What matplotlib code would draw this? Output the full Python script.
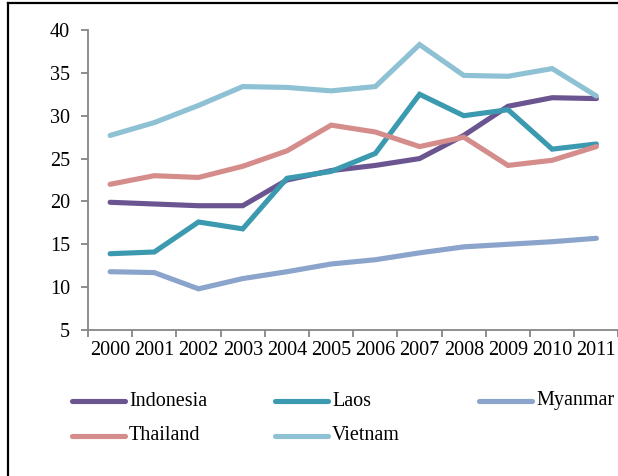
import matplotlib
matplotlib.use("Agg")
import matplotlib.pyplot as plt
from matplotlib.lines import Line2D

# 동남아 5개국 지표 추이 (2000-2011)
years = ["2000", "2001", "2002", "2003", "2004", "2005",
         "2006", "2007", "2008", "2009", "2010", "2011"]
indonesia = [19.9, 19.7, 19.5, 19.5, 22.5, 23.6, 24.2, 25.0, 27.7, 31.1, 32.1, 32.0]
laos = [13.9, 14.1, 17.6, 16.8, 22.7, 23.5, 25.6, 32.5, 30.0, 30.7, 26.1, 26.7]
myanmar = [11.8, 11.7, 9.8, 11.0, 11.8, 12.7, 13.2, 14.0, 14.7, 15.0, 15.3, 15.7]
thailand = [22.0, 23.0, 22.8, 24.1, 25.9, 28.9, 28.1, 26.4, 27.5, 24.2, 24.8, 26.4]
vietnam = [27.7, 29.2, 31.2, 33.4, 33.3, 32.9, 33.4, 38.3, 34.7, 34.6, 35.5, 32.3]

series = [
    ("Indonesia", indonesia, "#6b5590"),
    ("Laos", laos, "#3c9ab0"),
    ("Myanmar", myanmar, "#8ba4cc"),
    ("Thailand", thailand, "#d58d8b"),
    ("Vietnam", vietnam, "#8ec1d4"),
]

plt.rcParams["font.family"] = ["Liberation Serif", "DejaVu Serif"]
fs = 14.5

fig = plt.figure(figsize=(6.18, 4.76), dpi=100)
ax = fig.add_axes([88 / 618, 1 - 330 / 476, 530.5 / 618, 300 / 476])

x = range(len(years))
for name, vals, color in series:
    ax.plot(x, vals, color=color, lw=3.7, solid_capstyle="round",
            solid_joinstyle="miter", clip_on=False)

ax.set_xlim(-0.5, len(years) - 0.5)
ax.set_ylim(5, 40)
ax.set_yticks(range(5, 41, 5))
ax.set_xticks([i - 0.5 for i in range(len(years) + 1)], minor=False)
ax.set_xticklabels([])
ax.set_xticks(list(x), minor=True)
ax.set_xticklabels(years, minor=True)
ax.tick_params(axis="x", which="major", direction="out", length=5, width=1.3, color="#868686")
ax.tick_params(axis="x", which="minor", length=0, pad=8, labelsize=fs)
ax.tick_params(axis="y", direction="out", length=5, width=1.3, color="#868686",
               pad=8, labelsize=fs)

for side in ["top", "right"]:
    ax.spines[side].set_visible(False)
for side in ["left", "bottom"]:
    ax.spines[side].set_color("#868686")
    ax.spines[side].set_linewidth(1.3)

# 바깥 테두리 (왼쪽, 위쪽)
fig.add_artist(Line2D([8 / 618, 8 / 618], [0, 1 - 3 / 476], color="black", lw=1.6))
fig.add_artist(Line2D([8 / 618, 1], [1 - 3 / 476, 1 - 3 / 476], color="black", lw=1.6))

# 범례 (3열 배치)
col_x = [72, 275, 479]
row_y = [401, 436]
for i, (name, vals, color) in enumerate(series):
    cx = col_x[i % 3]
    cy = row_y[i // 3]
    fig.add_artist(Line2D([cx / 618, (cx + 53) / 618], [1 - cy / 476, 1 - cy / 476],
                          color=color, lw=3.7, solid_capstyle="round"))
    fig.text((cx + 57) / 618, 1 - cy / 476, name, fontsize=fs, va="center", ha="left")

fig.savefig("out.png", dpi=100)
